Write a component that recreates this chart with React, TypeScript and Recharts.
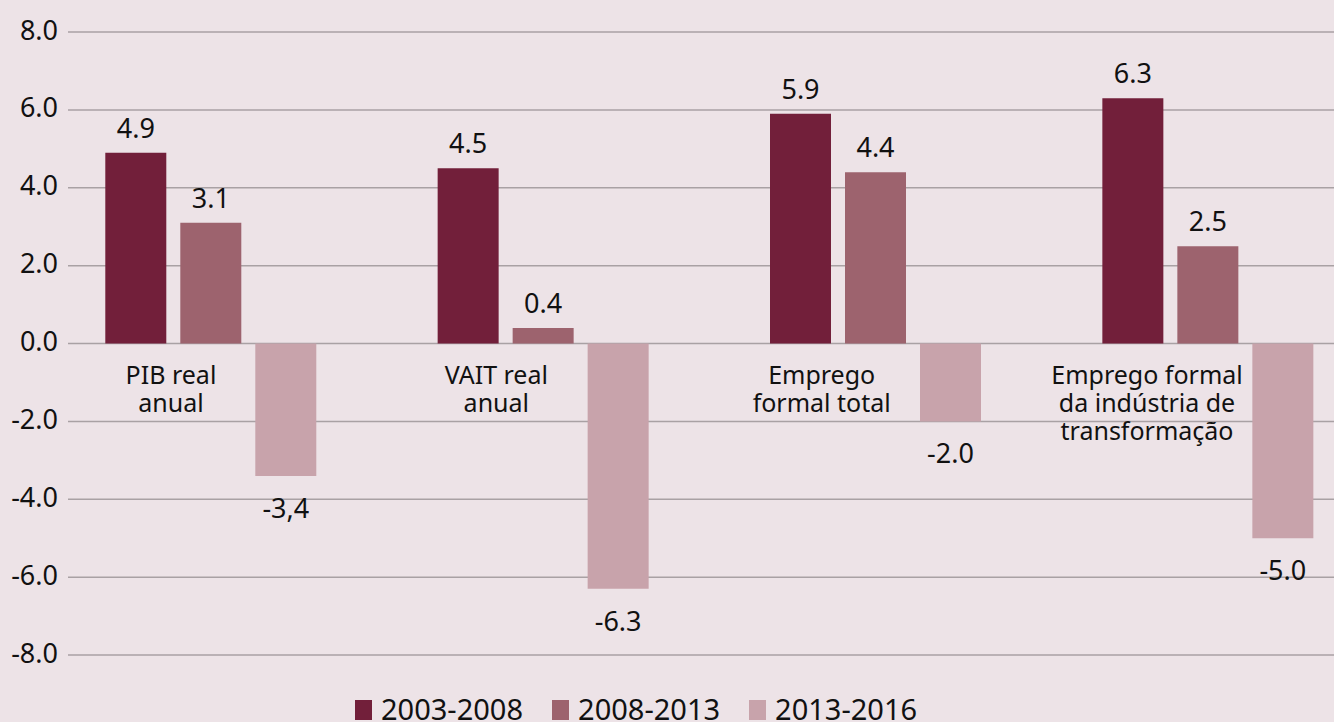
import React from 'react';
import { BarChart, Bar, XAxis, YAxis, CartesianGrid, LabelList } from 'recharts';

const categories = [
  'PIB real\nanual',
  'VAIT real\nanual',
  'Emprego\nformal total',
  'Emprego formal\nda indústria de\ntransformação',
];
const series1 = [4.9, 4.5, 5.9, 6.3];
const series2 = [3.1, 0.4, 4.4, 2.5];
const series3 = [-3.4, -6.3, -2.0, -5.0];
const labels1 = ['4.9', '4.5', '5.9', '6.3'];
const labels2 = ['3.1', '0.4', '4.4', '2.5'];
const labels3 = ['-3,4', '-6.3', '-2.0', '-5.0'];
const seriesNames = ['2003-2008', '2008-2013', '2013-2016'];
const yTicks = [-8, -6, -4, -2, 0, 2, 4, 6, 8];

const COLORS = ['#721f3a', '#9d636e', '#c8a3ab'];
const BG = '#ede3e7';
const FONT = "'Noto Sans', 'Open Sans', sans-serif";

const W = 1334;
const H = 722;
const TOP = 32;
const BOTTOM = 66;
const LABEL_AXIS_H = 1;
const Y_MIN = -8;
const Y_MAX = 8;
const PLOT_H = H - TOP - BOTTOM - LABEL_AXIS_H;
const ZERO_Y = TOP + (PLOT_H * Y_MAX) / (Y_MAX - Y_MIN);

const data = categories.map((cat, i) => ({
  cat,
  s1: series1[i],
  s2: series2[i],
  s3: series3[i],
}));

const CategoryTick = (props: any) => {
  const { x, payload } = props;
  const lines = String(payload.value).split('\n');
  return (
    <text textAnchor="middle" fontSize={25} fill="#111" fontFamily={FONT}>
      {lines.map((l, i) => (
        <tspan key={i} x={x} y={ZERO_Y + 40 + i * 28}>
          {l}
        </tspan>
      ))}
    </text>
  );
};

const makeLabel = (labels: string[]) => (props: any) => {
  const { x, y, width, height, index, value } = props;
  const top = Math.min(Number(y), Number(y) + Number(height));
  const bottom = Math.max(Number(y), Number(y) + Number(height));
  const cx = Number(x) + Number(width) / 2;
  const v = Array.isArray(value) ? value[1] : Number(value);
  const ty = v >= 0 ? top - 15 : bottom + 42;
  return (
    <text x={cx} y={ty} textAnchor="middle" fontSize={27} fill="#111" fontFamily={FONT}>
      {labels[index]}
    </text>
  );
};

const App = () => {
  return (
    <div
      style={{
        position: 'absolute',
        left: 0,
        top: 0,
        width: W,
        height: H,
        background: BG,
        fontFamily: FONT,
        overflow: 'hidden',
      }}
    >
      <BarChart
        width={W}
        height={H}
        data={data}
        margin={{ top: TOP, right: 0, bottom: BOTTOM, left: 0 }}
        barGap={14}
      >
        <CartesianGrid
          xAxisId="bars"
          vertical={false}
          stroke="#a9a1a4"
          strokeWidth={1.5}
        />
        <XAxis
          xAxisId="bars"
          dataKey="cat"
          hide
          padding={{ left: -23.7, right: -39.7 }}
        />
        <XAxis
          xAxisId="labels"
          dataKey="cat"
          height={LABEL_AXIS_H}
          axisLine={false}
          tickLine={false}
          interval={0}
          padding={{ left: -59.7, right: 24.3 }}
          tick={<CategoryTick />}
        />
        <YAxis
          width={68}
          domain={[Y_MIN, Y_MAX]}
          ticks={yTicks}
          axisLine={false}
          tickLine={false}
          tickSize={6}
          tickMargin={4}
          interval={0}
          tickFormatter={(v: number) => v.toFixed(1)}
          tick={{ fontSize: 27, fill: '#111', fontFamily: FONT, dy: -2 }}
        />
        <Bar xAxisId="bars" dataKey="s1" name={seriesNames[0]} fill={COLORS[0]} barSize={61} isAnimationActive={false}>
          <LabelList dataKey="s1" content={makeLabel(labels1)} />
        </Bar>
        <Bar xAxisId="bars" dataKey="s2" name={seriesNames[1]} fill={COLORS[1]} barSize={61} isAnimationActive={false}>
          <LabelList dataKey="s2" content={makeLabel(labels2)} />
        </Bar>
        <Bar xAxisId="bars" dataKey="s3" name={seriesNames[2]} fill={COLORS[2]} barSize={61} isAnimationActive={false}>
          <LabelList dataKey="s3" content={makeLabel(labels3)} />
        </Bar>
      </BarChart>
      <div
        style={{
          position: 'absolute',
          left: 355,
          top: 694,
          display: 'flex',
          alignItems: 'baseline',
          fontSize: 29,
          lineHeight: '29px',
          color: '#111',
          whiteSpace: 'nowrap',
        }}
      >
        {seriesNames.map((n, i) => (
          <div key={n} style={{ display: 'flex', alignItems: 'baseline', marginRight: 29 }}>
            <span
              style={{
                display: 'inline-block',
                width: 17,
                height: 20,
                background: COLORS[i],
                marginRight: 9,
              }}
            />
            <span>{n}</span>
          </div>
        ))}
      </div>
    </div>
  );
};

export default App;
